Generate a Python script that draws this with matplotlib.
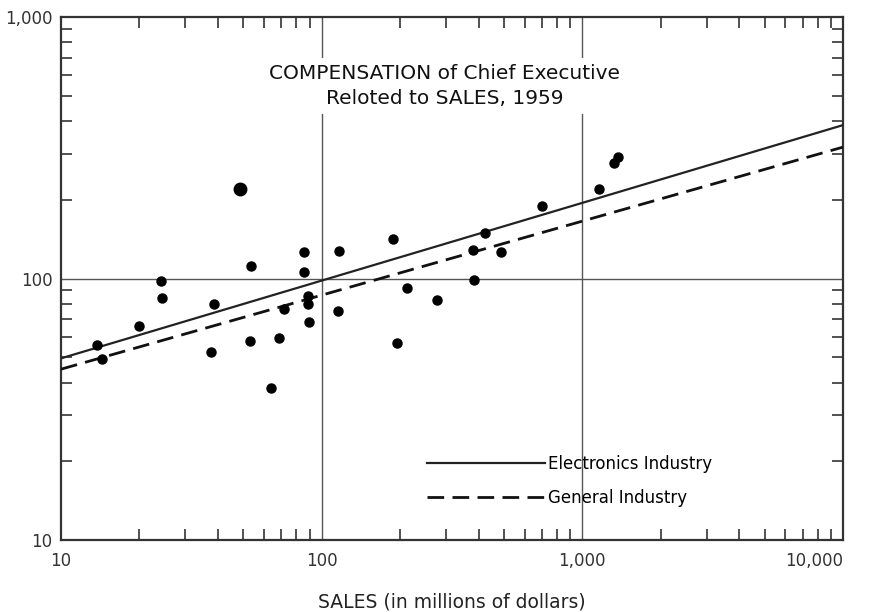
import matplotlib
matplotlib.use("Agg")
import matplotlib.pyplot as plt
from matplotlib.ticker import LogLocator, FixedLocator, NullFormatter

# ---- data ----
sales = [13.7, 14.4, 19.9, 24.1, 24.3, 37.5, 38.8, 53.3, 53.8, 64.1, 68.7, 71.9,
         85.8, 85.8, 88.8, 88.8, 89.5, 115.6, 116.7, 187.7, 194, 212, 277, 380,
         383, 422, 486, 703, 1162, 1325, 1373]
comp = [55.8, 49.3, 66, 98, 84.5, 52.5, 80, 57.9, 112, 38.2, 59.4, 76.7,
        126, 106, 86, 80, 68.4, 74.8, 127, 142, 56.9, 91.6, 82.4, 129,
        99, 149, 126, 190, 219, 276, 291]
big_sales = [48.7]
big_comp = [219]

line_x = [10, 10000]
electronics_y = [49.5, 386]
general_y = [45, 318]

x_ticks = [10, 100, 1000, 10000]
x_labels = ["10", "100", "1,000", "10,000"]
y_ticks = [10, 100, 1000]
y_labels = ["10", "100", "1,000"]

title_text = "COMPENSATION of Chief Executive\nReloted to SALES, 1959"
xlabel_text = "SALES (in millions of dollars)"
legend_labels = ["Electronics Industry", "General Industry"]

# ---- plot ----
plt.rcParams['font.family'] = ['DejaVu Sans']
fig = plt.figure(figsize=(8.71, 6.12), dpi=100)
ax = fig.add_axes([61/871, 1-540/612, (843-61)/871, (540-17)/612])
ax.set_xscale('log')
ax.set_yscale('log')
ax.set_xlim(10, 10000)
ax.set_ylim(10, 1000)

ax.plot(line_x, electronics_y, color='#222222', lw=1.6, label=legend_labels[0], zorder=3)
ax.plot(line_x, general_y, color='#111111', lw=2.0, ls=(0, (6, 3)), label=legend_labels[1], zorder=3)
ax.plot(sales, comp, 'o', color='black', ms=6.5, ls='none', zorder=4)
ax.plot(big_sales, big_comp, 'o', color='black', ms=9, ls='none', zorder=4)

# grid at major decades
for v in [100, 1000]:
    ax.axvline(v, color='#555555', lw=1.0, zorder=1)
ax.axhline(100, color='#555555', lw=1.0, zorder=1)

ax.xaxis.set_major_locator(FixedLocator(x_ticks))
ax.set_xticklabels(x_labels)
ax.yaxis.set_major_locator(FixedLocator(y_ticks))
ax.set_yticklabels(y_labels)
ax.xaxis.set_minor_locator(LogLocator(base=10, subs=range(2, 10)))
ax.yaxis.set_minor_locator(LogLocator(base=10, subs=range(2, 10)))
ax.xaxis.set_minor_formatter(NullFormatter())
ax.yaxis.set_minor_formatter(NullFormatter())
ax.tick_params(which='major', length=0, labelsize=12, colors='#333333')
ax.tick_params(axis='x', which='major', pad=9)
ax.tick_params(axis='y', which='major', pad=6)
ax.tick_params(which='minor', direction='in', length=8, width=1.2, color='#333333',
               top=True, right=True, bottom=True, left=True)
xtl = ax.get_xticklabels()
xtl[-1].set_horizontalalignment('right')
for s in ax.spines.values():
    s.set_linewidth(1.6)
    s.set_color('#333333')

ax.text(0.491, 0.868, title_text, transform=ax.transAxes, ha='center', va='center',
        fontsize=14.5, linespacing=1.4, color='#111111',
        bbox=dict(facecolor='white', edgecolor='none', pad=4), zorder=5)

ax.set_xlabel(xlabel_text, fontsize=13.5, color='#222222', labelpad=16)

ax.legend(loc='lower left', bbox_to_anchor=(0.449, 0.035), frameon=False,
          handlelength=7.1, handletextpad=0.15, fontsize=12, labelspacing=0.95)

fig.savefig("out.png", dpi=100)
